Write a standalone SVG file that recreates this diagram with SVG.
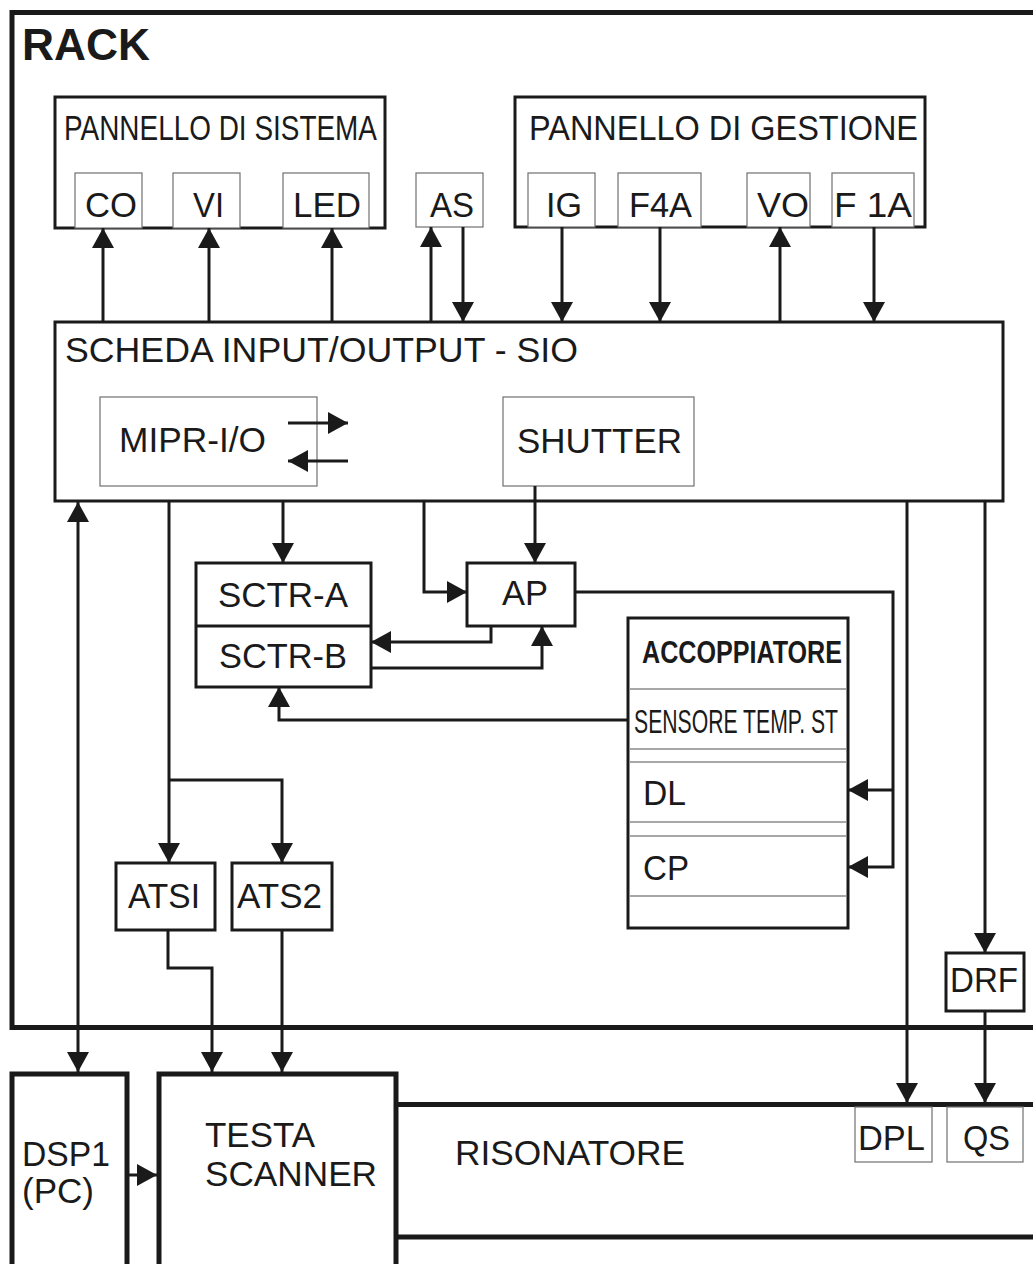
<svg xmlns="http://www.w3.org/2000/svg" width="1033" height="1264" viewBox="0 0 1033 1264">
<style>
  .t{font-family:"Liberation Sans",Arial,sans-serif;font-size:35px;fill:#1a1a1a}
  .rk{font-size:44px;font-weight:bold}
  .acc{font-size:31px;font-weight:bold}
  .sen{font-size:33px}
  .box{fill:#fff;stroke:#1a1a1a;stroke-width:3}
  .thick{fill:none;stroke:#1a1a1a;stroke-width:5}
  .thin{fill:#fff;stroke:#707070;stroke-width:1.2}
  .sep{stroke:#8a8a8a;stroke-width:1.5}
  .c{fill:none;stroke:#1a1a1a;stroke-width:3}
  .c.a{marker-end:url(#ah)}
  .c.d{marker-start:url(#ah);marker-end:url(#ah)}
</style>
<defs>
  <marker id="ah" markerUnits="userSpaceOnUse" markerWidth="20" markerHeight="22" refX="20" refY="11" orient="auto-start-reverse">
    <path d="M0,0 L20,11 L0,22 z" fill="#1a1a1a"/>
  </marker>
</defs>
<rect width="1033" height="1264" fill="#fff"/>

<g id="rack">
  <path class="thick" d="M1033,12.5 H12 V1027.5 H1033"/>
  <text class="t rk" x="22" y="60" textLength="128" lengthAdjust="spacingAndGlyphs">RACK</text>
</g>

<g id="pannello-sistema">
  <rect class="box" x="55" y="97" width="330" height="131"/>
  <text class="t" x="64" y="140" textLength="313" lengthAdjust="spacingAndGlyphs">PANNELLO DI SISTEMA</text>
</g>
<g id="co"><rect class="thin" x="75" y="173" width="67" height="55"/><text class="t" x="85" y="217" textLength="52" lengthAdjust="spacingAndGlyphs">CO</text></g>
<g id="vi"><rect class="thin" x="173" y="173" width="67" height="55"/><text class="t" x="193" y="217" textLength="31" lengthAdjust="spacingAndGlyphs">VI</text></g>
<g id="led"><rect class="thin" x="283" y="173" width="86" height="55"/><text class="t" x="293" y="217" textLength="68" lengthAdjust="spacingAndGlyphs">LED</text></g>
<g id="as"><rect class="thin" x="416" y="173" width="67" height="54"/><text class="t" x="430" y="217" textLength="44" lengthAdjust="spacingAndGlyphs">AS</text></g>

<g id="pannello-gestione">
  <rect class="box" x="515" y="97" width="410" height="130"/>
  <text class="t" x="529" y="140" textLength="389" lengthAdjust="spacingAndGlyphs">PANNELLO DI GESTIONE</text>
</g>
<g id="ig"><rect class="thin" x="528" y="173" width="67" height="54"/><text class="t" x="546" y="217" textLength="36" lengthAdjust="spacingAndGlyphs">IG</text></g>
<g id="f4a"><rect class="thin" x="618" y="173" width="83" height="54"/><text class="t" x="629" y="217" textLength="63" lengthAdjust="spacingAndGlyphs">F4A</text></g>
<g id="vo"><rect class="thin" x="747" y="173" width="63" height="54"/><text class="t" x="757" y="217" textLength="52" lengthAdjust="spacingAndGlyphs">VO</text></g>
<g id="f1a"><rect class="thin" x="832" y="173" width="82" height="54"/><text class="t" x="834" y="217" textLength="78" lengthAdjust="spacingAndGlyphs">F 1A</text></g>

<g id="sio">
  <rect class="box" x="55" y="322" width="948" height="179"/>
  <text class="t" x="65" y="362" textLength="513" lengthAdjust="spacingAndGlyphs">SCHEDA INPUT/OUTPUT - SIO</text>
</g>
<g id="mipr">
  <rect class="thin" x="100" y="397" width="217" height="89"/>
  <text class="t" x="119" y="452" textLength="147" lengthAdjust="spacingAndGlyphs">MIPR-I/O</text>
</g>
<g id="shutter">
  <rect class="thin" x="503" y="397" width="191" height="89"/>
  <text class="t" x="517" y="453" textLength="165" lengthAdjust="spacingAndGlyphs">SHUTTER</text>
</g>

<g id="sctr">
  <rect class="box" x="196" y="563" width="175" height="124"/>
  <line x1="196" y1="626" x2="371" y2="626" stroke="#1a1a1a" stroke-width="3"/>
  <text class="t" x="218" y="607" textLength="130" lengthAdjust="spacingAndGlyphs">SCTR-A</text>
  <text class="t" x="219" y="668" textLength="128" lengthAdjust="spacingAndGlyphs">SCTR-B</text>
</g>
<g id="ap">
  <rect class="box" x="467" y="563" width="108" height="63"/>
  <text class="t" x="502" y="605" textLength="46" lengthAdjust="spacingAndGlyphs">AP</text>
</g>

<g id="accoppiatore">
  <rect class="box" x="628" y="618" width="220" height="310"/>
  <text class="t acc" x="642" y="663" textLength="200" lengthAdjust="spacingAndGlyphs">ACCOPPIATORE</text>
  <line class="sep" x1="630" y1="689" x2="846" y2="689"/>
  <text class="t sen" x="634" y="733" textLength="204" lengthAdjust="spacingAndGlyphs">SENSORE TEMP. ST</text>
  <line class="sep" x1="630" y1="749" x2="846" y2="749"/>
  <line class="sep" x1="630" y1="762" x2="846" y2="762"/>
  <text class="t" x="643" y="805" textLength="43" lengthAdjust="spacingAndGlyphs">DL</text>
  <line class="sep" x1="630" y1="822" x2="846" y2="822"/>
  <line class="sep" x1="630" y1="836" x2="846" y2="836"/>
  <text class="t" x="643" y="880" textLength="46" lengthAdjust="spacingAndGlyphs">CP</text>
  <line class="sep" x1="630" y1="896" x2="846" y2="896"/>
</g>

<g id="atsi">
  <rect class="box" x="116" y="863" width="99" height="67"/>
  <text class="t" x="128" y="908" textLength="72" lengthAdjust="spacingAndGlyphs">ATSI</text>
</g>
<g id="ats2">
  <rect class="box" x="232" y="863" width="100" height="67"/>
  <text class="t" x="237" y="908" textLength="85" lengthAdjust="spacingAndGlyphs">ATS2</text>
</g>
<g id="drf">
  <rect class="box" x="946" y="953" width="78" height="58"/>
  <text class="t" x="950" y="992" textLength="68" lengthAdjust="spacingAndGlyphs">DRF</text>
</g>

<g id="dsp1">
  <path class="thick" d="M12,1270 V1074 H127 V1270"/>
  <text class="t" x="22" y="1166" textLength="88" lengthAdjust="spacingAndGlyphs">DSP1</text>
  <text class="t" x="22" y="1203" textLength="72" lengthAdjust="spacingAndGlyphs">(PC)</text>
</g>
<g id="testa-scanner">
  <path class="thick" d="M159,1270 V1074 H396 V1270"/>
  <text class="t" x="205" y="1147" textLength="110" lengthAdjust="spacingAndGlyphs">TESTA</text>
  <text class="t" x="205" y="1186" textLength="172" lengthAdjust="spacingAndGlyphs">SCANNER</text>
</g>
<g id="risonatore">
  <line class="thick" x1="396" y1="1104.5" x2="1033" y2="1104.5"/>
  <line class="thick" x1="396" y1="1237" x2="1033" y2="1237"/>
  <text class="t" x="455" y="1165" textLength="230" lengthAdjust="spacingAndGlyphs">RISONATORE</text>
</g>
<g id="dpl"><rect class="thin" x="855" y="1107" width="77" height="55"/><text class="t" x="858" y="1150" textLength="67" lengthAdjust="spacingAndGlyphs">DPL</text></g>
<g id="qs"><rect class="thin" x="947" y="1107" width="76" height="55"/><text class="t" x="963" y="1150" textLength="47" lengthAdjust="spacingAndGlyphs">QS</text></g>

<g id="connectors">
  <path class="c a" d="M103,322 V228"/>
  <path class="c a" d="M209,322 V228"/>
  <path class="c a" d="M332,322 V228"/>
  <path class="c a" d="M431,322 V227"/>
  <path class="c a" d="M463,227 V322"/>
  <path class="c a" d="M562,227 V322"/>
  <path class="c a" d="M660,227 V322"/>
  <path class="c a" d="M780,322 V227"/>
  <path class="c a" d="M874,227 V322"/>
  <path class="c a" d="M288,423 H348"/>
  <path class="c a" d="M348,461 H288"/>
  <path class="c d" d="M78,502 V1072"/>
  <path class="c a" d="M169,501 V863"/>
  <path class="c a" d="M169,780 H282 V863"/>
  <path class="c a" d="M283,501 V563"/>
  <path class="c a" d="M424,501 V592 H467"/>
  <path class="c a" d="M535,486 V563"/>
  <path class="c a" d="M491,626 V642 H371"/>
  <path class="c a" d="M371,668 H542 V626"/>
  <path class="c a" d="M628,720 H279 V687"/>
  <path class="c a" d="M575,592 H893 V867 H848"/>
  <path class="c a" d="M893,790 H848"/>
  <path class="c a" d="M907,501 V1103"/>
  <path class="c a" d="M985,501 V953"/>
  <path class="c a" d="M985,1011 V1103"/>
  <path class="c a" d="M168,930 V968 H212 V1072"/>
  <path class="c a" d="M282,930 V1072"/>
  <path class="c a" d="M127,1175 H157"/>
</g>
</svg>
